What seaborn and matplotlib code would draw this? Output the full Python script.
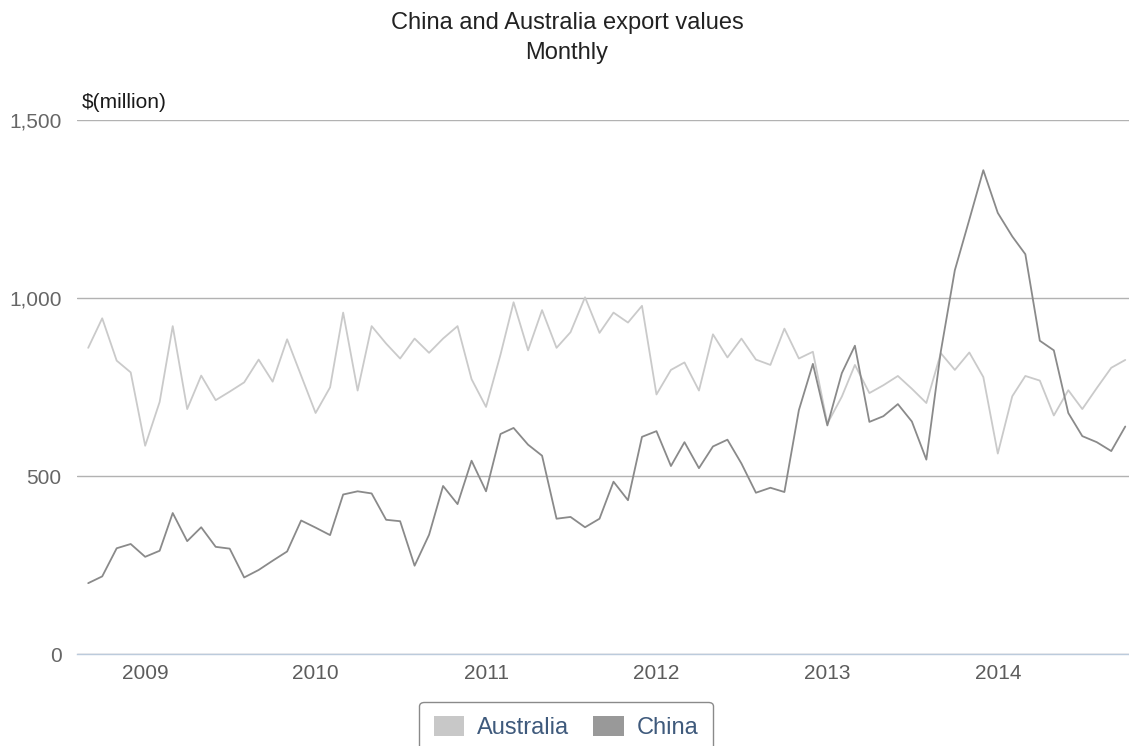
import numpy as np
import pandas as pd
import matplotlib
matplotlib.use("Agg")
import matplotlib.pyplot as plt
import matplotlib.ticker as mticker
from matplotlib.patches import Patch
import seaborn as sns

# ---------------- data ----------------
title_line1 = "China and Australia export values"
title_line2 = "Monthly"
y_axis_title = "$(million)"
series_names = ["Australia", "China"]
start_month = "2008-09-01"

australia = [860, 943, 824, 791, 585, 708, 921, 688, 782, 713, 737, 763,
             827, 765, 884, 782, 677, 749, 959, 740, 921, 872, 830, 886,
             846, 886, 921, 772, 694, 841, 988, 853, 966, 860, 904, 1002,
             902, 959, 931, 978, 729, 798, 819, 740, 898, 833, 886, 827,
             812, 914, 830, 849, 647, 723, 812, 733, 755, 781, 745, 705,
             845, 798, 847, 778, 563, 724, 781, 768, 670, 741, 688, 747,
             804, 826]
china = [199, 218, 297, 309, 273, 290, 396, 317, 356, 301, 296, 215,
         236, 262, 288, 375, 355, 334, 448, 457, 451, 377, 373, 248,
         335, 472, 421, 543, 457, 618, 635, 588, 557, 380, 385, 356,
         380, 484, 432, 610, 626, 528, 595, 522, 583, 602, 535, 453,
         467, 455, 685, 815, 642, 789, 866, 652, 668, 702, 653, 546,
         850, 1078, 1220, 1359, 1239, 1173, 1123, 880, 853, 677, 612, 595,
         570, 639]

y_ticks = [0, 500, 1000, 1500]
year_labels = ["2009", "2010", "2011", "2012", "2013", "2014"]

# ---------------- frame ----------------
months = pd.date_range(start_month, periods=len(australia), freq="MS")
df = pd.DataFrame({
    "Month": list(months) + list(months),
    "Value": australia + china,
    "Country": [series_names[0]] * len(australia) + [series_names[1]] * len(china),
})

sns.set_theme(style="white")
plt.rcParams["font.family"] = ["Liberation Sans", "DejaVu Sans"]

W, H = 1129, 746
fig = plt.figure(figsize=(W / 100, H / 100), dpi=100)
left_px, right_px, top_px, bottom_px = 77, 1129, 120, 654
ax = fig.add_axes([left_px / W, 1 - bottom_px / H,
                   (right_px - left_px) / W, (bottom_px - top_px) / H])

line_colors = {"Australia": "#cacaca", "China": "#8a8a8a"}
sns.lineplot(data=df, x="Month", y="Value", hue="Country",
             palette=line_colors, linewidth=1.3, ax=ax, legend=False)

ax.set_ylim(0, 1500)
ax.set_xlim(pd.Timestamp("2008-08-08"), pd.Timestamp("2014-10-09"))
ax.set_yticks(y_ticks)
ax.yaxis.set_major_formatter(mticker.FuncFormatter(lambda v, p: f"{int(v):,}"))
ax.set_xticks([pd.Timestamp(f"{y}-01-01") for y in year_labels])
ax.set_xticklabels(year_labels)
ax.set_xlabel("")
ax.set_ylabel("")

ax.set_axisbelow(True)
ax.yaxis.grid(True, color="#b2b2b2", linewidth=1.0)
ax.xaxis.grid(False)
for s in ["top", "right", "left"]:
    ax.spines[s].set_visible(False)
ax.spines["bottom"].set_color("#bccbdc")
ax.spines["bottom"].set_linewidth(1.0)

ax.tick_params(axis="x", length=5, width=1, color="#bccbdc", direction="out",
               pad=2, labelsize=15, labelcolor="#5c5c5c")
ax.tick_params(axis="y", length=0, pad=11, labelsize=15, labelcolor="#666666")

fig.text(567 / W, 1 - 29.5 / H, title_line1, ha="center", va="baseline",
         fontsize=17, color="#222222")
fig.text(567 / W, 1 - 58.5 / H, title_line2, ha="center", va="baseline",
         fontsize=17, color="#222222")
fig.text(82 / W, 1 - 107.5 / H, y_axis_title, ha="left", va="baseline",
         fontsize=15, color="#1a1a1a", parse_math=False)

handles = [Patch(facecolor="#c8c8c8", edgecolor="none", label=series_names[0]),
           Patch(facecolor="#999999", edgecolor="none", label=series_names[1])]
leg = fig.legend(handles=handles, loc="upper center",
                 bbox_to_anchor=(566 / W, 1 - 701.5 / H), ncol=2, frameon=True,
                 fancybox=True, fontsize=17, handlelength=1.3, handleheight=0.95,
                 handletextpad=0.55, columnspacing=1.0, borderpad=0.6,
                 borderaxespad=0.0, labelcolor="#3f5a7c")
leg.get_frame().set_edgecolor("#8a8a8a")
leg.get_frame().set_linewidth(1.0)
leg.get_frame().set_alpha(1)

fig.savefig("out.png", dpi=100)
